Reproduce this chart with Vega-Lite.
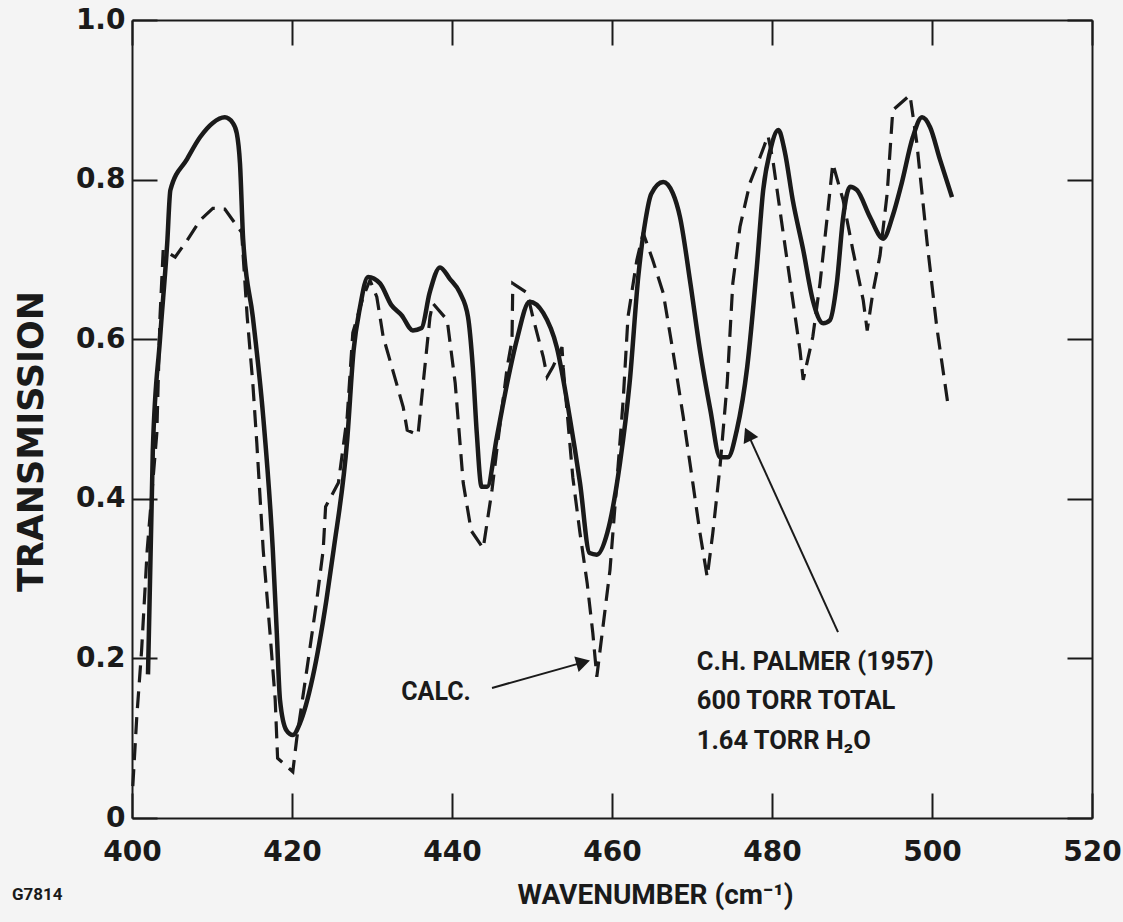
{
  "$schema": "https://vega.github.io/schema/vega-lite/v6.json",
  "autosize": {"type": "none"},
  "width": 960,
  "height": 798,
  "padding": {"left": 132, "top": 20, "right": 31, "bottom": 104},
  "background": "#f4f4f4",
  "config": {
    "view": {"stroke": null},
    "axis": {
      "grid": false,
      "domainColor": "#1a1a1a",
      "domainWidth": 2,
      "tickColor": "#1a1a1a",
      "tickWidth": 2,
      "tickSize": -25,
      "labelFont": "DejaVu Sans",
      "labelFontWeight": "bold",
      "labelFontSize": 28,
      "labelColor": "#1a1a1a",
      "titleFont": "DejaVu Sans",
      "titleFontWeight": "bold",
      "titleColor": "#1a1a1a"
    },
    "text": {"font": "Roboto", "fontWeight": "bold", "color": "#1a1a1a"}
  },
  "datasets": {
    "palmer": [
      {"wn": 402.0, "t": 0.18}, {"wn": 402.6, "t": 0.46}, {"wn": 403.5, "t": 0.60}, {"wn": 404.4, "t": 0.72},
      {"wn": 404.8, "t": 0.787}, {"wn": 406.9, "t": 0.826}, {"wn": 408.5, "t": 0.853}, {"wn": 410.1, "t": 0.871},
      {"wn": 411.6, "t": 0.878}, {"wn": 412.6, "t": 0.871}, {"wn": 413.1, "t": 0.858}, {"wn": 413.5, "t": 0.82},
      {"wn": 413.9, "t": 0.724}, {"wn": 415.1, "t": 0.628}, {"wn": 416.4, "t": 0.503}, {"wn": 417.6, "t": 0.336},
      {"wn": 418.1, "t": 0.232}, {"wn": 418.5, "t": 0.148}, {"wn": 419.3, "t": 0.110}, {"wn": 420.1, "t": 0.104},
      {"wn": 421.0, "t": 0.119}, {"wn": 422.6, "t": 0.177}, {"wn": 424.3, "t": 0.273}, {"wn": 425.2, "t": 0.336},
      {"wn": 426.9, "t": 0.474}, {"wn": 427.7, "t": 0.586}, {"wn": 428.5, "t": 0.640}, {"wn": 429.5, "t": 0.678},
      {"wn": 431.0, "t": 0.670}, {"wn": 432.4, "t": 0.643}, {"wn": 433.7, "t": 0.630}, {"wn": 435.1, "t": 0.611},
      {"wn": 436.2, "t": 0.614}, {"wn": 437.2, "t": 0.658}, {"wn": 438.5, "t": 0.690}, {"wn": 439.7, "t": 0.676},
      {"wn": 441.0, "t": 0.658}, {"wn": 442.0, "t": 0.628}, {"wn": 442.6, "t": 0.565}, {"wn": 443.1, "t": 0.482},
      {"wn": 443.7, "t": 0.415}, {"wn": 444.4, "t": 0.415}, {"wn": 445.6, "t": 0.477}, {"wn": 446.9, "t": 0.545},
      {"wn": 448.1, "t": 0.599}, {"wn": 449.7, "t": 0.647}, {"wn": 451.4, "t": 0.633}, {"wn": 453.1, "t": 0.590},
      {"wn": 454.7, "t": 0.503}, {"wn": 456.0, "t": 0.420}, {"wn": 457.2, "t": 0.332}, {"wn": 458.1, "t": 0.330},
      {"wn": 459.4, "t": 0.357}, {"wn": 461.0, "t": 0.445}, {"wn": 462.2, "t": 0.545}, {"wn": 463.3, "t": 0.68},
      {"wn": 464.2, "t": 0.75}, {"wn": 464.9, "t": 0.782}, {"wn": 466.4, "t": 0.797}, {"wn": 467.6, "t": 0.783},
      {"wn": 468.5, "t": 0.753}, {"wn": 469.8, "t": 0.670}, {"wn": 471.0, "t": 0.586}, {"wn": 472.3, "t": 0.511},
      {"wn": 473.5, "t": 0.452}, {"wn": 474.5, "t": 0.452}, {"wn": 475.6, "t": 0.486}, {"wn": 476.9, "t": 0.565},
      {"wn": 478.1, "t": 0.690}, {"wn": 478.9, "t": 0.787}, {"wn": 479.75, "t": 0.835}, {"wn": 480.8, "t": 0.862},
      {"wn": 481.6, "t": 0.835}, {"wn": 482.6, "t": 0.774}, {"wn": 483.9, "t": 0.712}, {"wn": 485.1, "t": 0.649},
      {"wn": 486.4, "t": 0.620}, {"wn": 487.25, "t": 0.624}, {"wn": 488.1, "t": 0.670}, {"wn": 488.9, "t": 0.753},
      {"wn": 489.75, "t": 0.791}, {"wn": 490.6, "t": 0.787}, {"wn": 492.25, "t": 0.753}, {"wn": 493.9, "t": 0.726},
      {"wn": 495.1, "t": 0.755}, {"wn": 496.2, "t": 0.795}, {"wn": 497.6, "t": 0.853}, {"wn": 498.75, "t": 0.878},
      {"wn": 499.75, "t": 0.866}, {"wn": 501.0, "t": 0.825}, {"wn": 502.5, "t": 0.778}
    ],
    "calc": [
      {"wn": 400.1, "t": 0.04}, {"wn": 400.6, "t": 0.127}, {"wn": 401.2, "t": 0.21}, {"wn": 401.9, "t": 0.336},
      {"wn": 403.1, "t": 0.482}, {"wn": 403.5, "t": 0.628}, {"wn": 403.9, "t": 0.712}, {"wn": 405.4, "t": 0.703},
      {"wn": 406.9, "t": 0.724}, {"wn": 408.5, "t": 0.749}, {"wn": 410.1, "t": 0.764}, {"wn": 411.6, "t": 0.763},
      {"wn": 412.6, "t": 0.749}, {"wn": 413.7, "t": 0.734}, {"wn": 414.4, "t": 0.628}, {"wn": 415.1, "t": 0.545},
      {"wn": 415.6, "t": 0.470}, {"wn": 416.4, "t": 0.336}, {"wn": 417.25, "t": 0.232}, {"wn": 417.9, "t": 0.148},
      {"wn": 418.2, "t": 0.075}, {"wn": 420.1, "t": 0.058}, {"wn": 420.6, "t": 0.10}, {"wn": 421.9, "t": 0.189},
      {"wn": 423.1, "t": 0.273}, {"wn": 423.9, "t": 0.336}, {"wn": 424.2, "t": 0.39}, {"wn": 425.8, "t": 0.42},
      {"wn": 426.9, "t": 0.503}, {"wn": 427.6, "t": 0.608}, {"wn": 428.9, "t": 0.653}, {"wn": 429.75, "t": 0.674},
      {"wn": 430.6, "t": 0.653}, {"wn": 431.4, "t": 0.603}, {"wn": 432.6, "t": 0.561}, {"wn": 433.9, "t": 0.515},
      {"wn": 434.4, "t": 0.486}, {"wn": 435.75, "t": 0.480}, {"wn": 436.4, "t": 0.545}, {"wn": 437.25, "t": 0.628},
      {"wn": 437.6, "t": 0.645}, {"wn": 439.4, "t": 0.624}, {"wn": 440.4, "t": 0.545}, {"wn": 441.4, "t": 0.420},
      {"wn": 442.4, "t": 0.36}, {"wn": 443.9, "t": 0.338}, {"wn": 445.0, "t": 0.411}, {"wn": 445.6, "t": 0.461},
      {"wn": 446.9, "t": 0.565}, {"wn": 447.5, "t": 0.599}, {"wn": 447.6, "t": 0.670}, {"wn": 449.4, "t": 0.658},
      {"wn": 450.1, "t": 0.628}, {"wn": 451.4, "t": 0.578}, {"wn": 451.9, "t": 0.553}, {"wn": 452.6, "t": 0.565},
      {"wn": 453.75, "t": 0.590}, {"wn": 453.9, "t": 0.565}, {"wn": 455.1, "t": 0.427}, {"wn": 456.0, "t": 0.357},
      {"wn": 456.9, "t": 0.294}, {"wn": 457.6, "t": 0.232}, {"wn": 458.1, "t": 0.177}, {"wn": 459.75, "t": 0.311},
      {"wn": 460.6, "t": 0.42}, {"wn": 461.4, "t": 0.524}, {"wn": 462.0, "t": 0.628}, {"wn": 463.1, "t": 0.699},
      {"wn": 463.9, "t": 0.733}, {"wn": 465.1, "t": 0.699}, {"wn": 466.4, "t": 0.658}, {"wn": 467.6, "t": 0.586},
      {"wn": 468.9, "t": 0.503}, {"wn": 470.1, "t": 0.420}, {"wn": 471.0, "t": 0.357}, {"wn": 471.9, "t": 0.302},
      {"wn": 472.6, "t": 0.357}, {"wn": 473.5, "t": 0.44}, {"wn": 474.4, "t": 0.545}, {"wn": 475.1, "t": 0.670},
      {"wn": 476.0, "t": 0.741}, {"wn": 477.25, "t": 0.796}, {"wn": 478.5, "t": 0.828}, {"wn": 479.5, "t": 0.855},
      {"wn": 480.1, "t": 0.825}, {"wn": 481.4, "t": 0.733}, {"wn": 482.6, "t": 0.649}, {"wn": 483.5, "t": 0.586},
      {"wn": 483.9, "t": 0.549}, {"wn": 485.1, "t": 0.603}, {"wn": 486.0, "t": 0.670}, {"wn": 486.9, "t": 0.753},
      {"wn": 487.6, "t": 0.820}, {"wn": 488.9, "t": 0.774}, {"wn": 490.1, "t": 0.712}, {"wn": 491.4, "t": 0.649},
      {"wn": 491.9, "t": 0.611}, {"wn": 492.6, "t": 0.658}, {"wn": 493.5, "t": 0.705}, {"wn": 494.4, "t": 0.783},
      {"wn": 495.1, "t": 0.887}, {"wn": 497.25, "t": 0.906}, {"wn": 498.1, "t": 0.846}, {"wn": 499.4, "t": 0.72},
      {"wn": 500.6, "t": 0.615}, {"wn": 502.0, "t": 0.518}
    ],
    "arrows": [
      {"x1": 445.0, "y1": 0.163, "x2": 456.4, "y2": 0.195, "ang": -15.5},
      {"x1": 488.25, "y1": 0.233, "x2": 477.0, "y2": 0.481, "ang": -115.2}
    ],
    "notesLeft": [
      {"wn": 470.6, "t": 0.195, "label": "C.H. PALMER (1957)"},
      {"wn": 470.6, "t": 0.147, "label": "600 TORR TOTAL"},
      {"wn": 470.6, "t": 0.097, "label": "1.64 TORR H₂O"}
    ]
  },
  "resolve": {"axis": {"x": "independent", "y": "independent"}},
  "layer": [
    {
      "data": {"name": "palmer"},
      "mark": {"type": "line", "color": "#1a1a1a", "strokeWidth": 4.5, "interpolate": "monotone"},
      "encoding": {
        "x": {"field": "wn", "type": "quantitative", "scale": {"domain": [400, 520], "nice": false},
          "axis": {"orient": "bottom", "values": [400, 420, 440, 460, 480, 500, 520], "labelPadding": 45, "labelFlush": false,
            "title": "WAVENUMBER (cm⁻¹)", "titleFont": "Roboto", "titleFontSize": 28, "titleX": 523, "titleY": 77, "titleBaseline": "middle", "titleAnchor": null}},
        "y": {"field": "t", "type": "quantitative", "scale": {"domain": [0, 1], "nice": false},
          "axis": {"orient": "left", "values": [0, 0.2, 0.4, 0.6, 0.8, 1.0], "labelPadding": 32, "labelFlush": false,
            "labelExpr": "datum.value == 0 ? '0' : format(datum.value, '.1f')",
            "title": "TRANSMISSION", "titleFontSize": 35, "titleX": -101, "titleY": 421, "titleAngle": -90, "titleAlign": "center", "titleBaseline": "middle"}}
      }
    },
    {
      "data": {"name": "calc"},
      "mark": {"type": "line", "color": "#1a1a1a", "strokeWidth": 3.2, "strokeDash": [17, 9]},
      "encoding": {
        "x": {"field": "wn", "type": "quantitative", "scale": {"domain": [400, 520], "nice": false},
          "axis": {"orient": "top", "values": [400, 420, 440, 460, 480, 500, 520], "labels": false, "title": null}},
        "y": {"field": "t", "type": "quantitative", "scale": {"domain": [0, 1], "nice": false},
          "axis": {"orient": "right", "values": [0, 0.2, 0.4, 0.6, 0.8, 1.0], "labels": false, "title": null}}
      }
    },
    {
      "data": {"name": "arrows"},
      "mark": {"type": "rule", "color": "#1a1a1a", "strokeWidth": 2},
      "encoding": {
        "x": {"field": "x1", "type": "quantitative", "axis": null},
        "y": {"field": "y1", "type": "quantitative", "axis": null},
        "x2": {"field": "x2"},
        "y2": {"field": "y2"}
      }
    },
    {
      "data": {"name": "arrows"},
      "mark": {"type": "point", "shape": "triangle-right", "filled": true, "color": "#1a1a1a", "size": 260, "opacity": 1},
      "encoding": {
        "x": {"field": "x2", "type": "quantitative", "axis": null},
        "y": {"field": "y2", "type": "quantitative", "axis": null},
        "angle": {"field": "ang", "type": "quantitative", "scale": null}
      }
    },
    {
      "data": {"name": "notesLeft"},
      "mark": {"type": "text", "fontSize": 25.5, "baseline": "middle", "align": "left"},
      "encoding": {
        "x": {"field": "wn", "type": "quantitative", "axis": null},
        "y": {"field": "t", "type": "quantitative", "axis": null},
        "text": {"field": "label"}
      }
    },
    {
      "data": {"values": [{"wn": 438.0, "t": 0.158, "label": "CALC."}]},
      "mark": {"type": "text", "fontSize": 25, "baseline": "middle", "align": "center"},
      "encoding": {
        "x": {"field": "wn", "type": "quantitative", "axis": null},
        "y": {"field": "t", "type": "quantitative", "axis": null},
        "text": {"field": "label"}
      }
    },
    {
      "data": {"values": [{"wn": 385, "t": -0.0965, "label": "G7814"}]},
      "mark": {"type": "text", "fontSize": 17, "align": "left", "baseline": "middle"},
      "encoding": {
        "x": {"field": "wn", "type": "quantitative", "axis": null},
        "y": {"field": "t", "type": "quantitative", "axis": null},
        "text": {"field": "label"}
      }
    }
  ]
}
